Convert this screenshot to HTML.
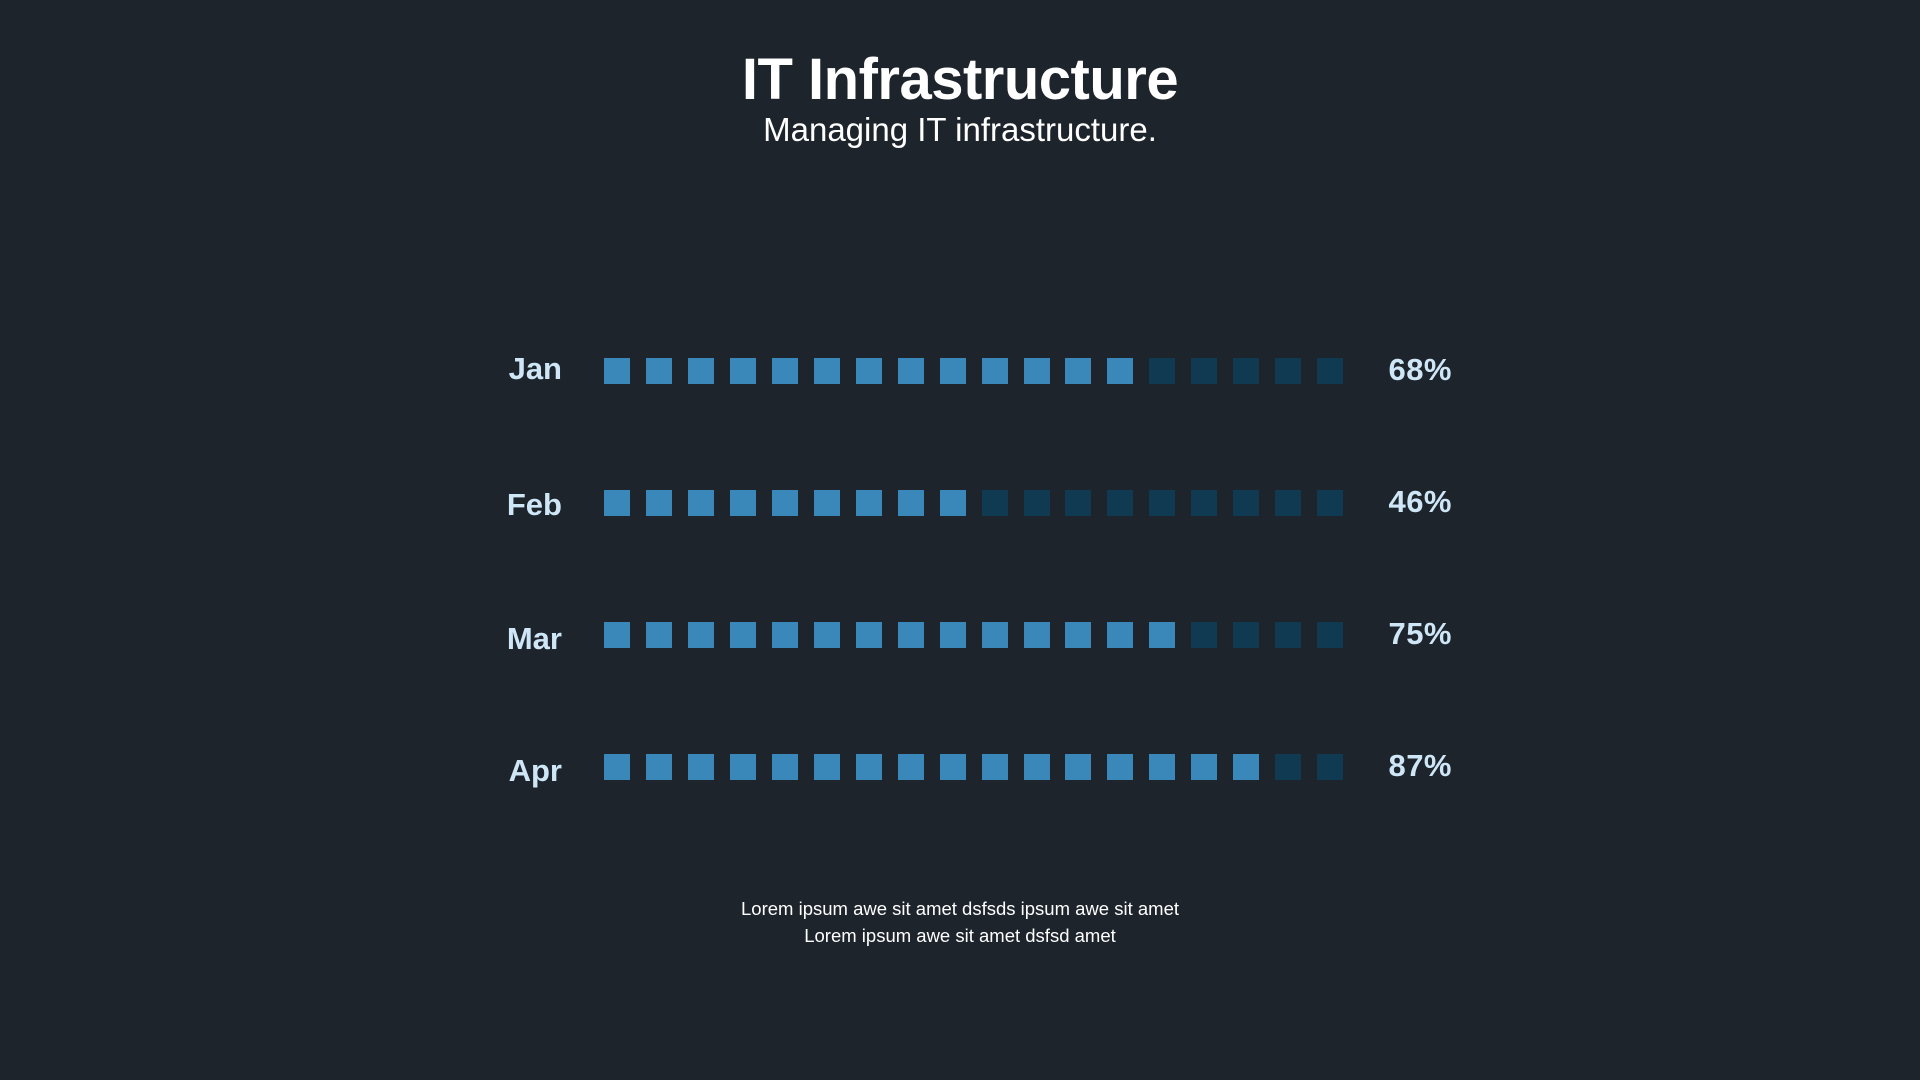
<!DOCTYPE html>
<html><head><meta charset="utf-8"><style>
html,body{margin:0;padding:0;}
body{width:1920px;height:1080px;background:#1d242c;position:relative;overflow:hidden;font-family:"Liberation Sans",sans-serif;}
.t{position:absolute;left:0;width:1920px;text-align:center;color:#fff;}
.m{position:absolute;width:200px;text-align:right;color:#cfe6f7;font-weight:bold;font-size:31px;}
.p{position:absolute;left:1300px;width:152px;text-align:right;color:#cfe6f7;font-weight:bold;font-size:31px;letter-spacing:0.5px;}
.sq{position:absolute;width:26px;height:26px;}
</style></head><body>
<div class="t" style="top:46px;font-size:58px;font-weight:bold;letter-spacing:-0.5px;">IT Infrastructure</div>
<div class="t" style="top:111px;font-size:33px;font-weight:300;">Managing IT infrastructure.</div>
<div id="rows"></div>
<div class="t" style="top:895px;font-size:18.5px;line-height:27px;">Lorem ipsum awe sit amet dsfsds ipsum awe sit amet<br>Lorem ipsum awe sit amet dsfsd amet</div>
<script>
var data=[["Jan",13,"68%"],["Feb",9,"46%"],["Mar",14,"75%"],["Apr",16,"87%"]];
var off=[0,4,6,6];
var h="";
data.forEach(function(d,i){
 var cy=371+i*132;
 var ly=cy-20+off[i];
 h+='<div class="m" style="left:362px;top:'+ly+'px">'+d[0]+'</div>';
 h+='<div class="p" style="top:'+(cy-19)+'px">'+d[2]+'</div>';
 for(var k=0;k<18;k++){
  h+='<div class="sq" style="left:'+(604+k*41.95)+'px;top:'+(cy-13)+'px;background:'+(k<d[1]?'#3a87ba':'#0f3a52')+'"></div>';
 }
});
document.getElementById("rows").innerHTML=h;
</script>
</body></html>
